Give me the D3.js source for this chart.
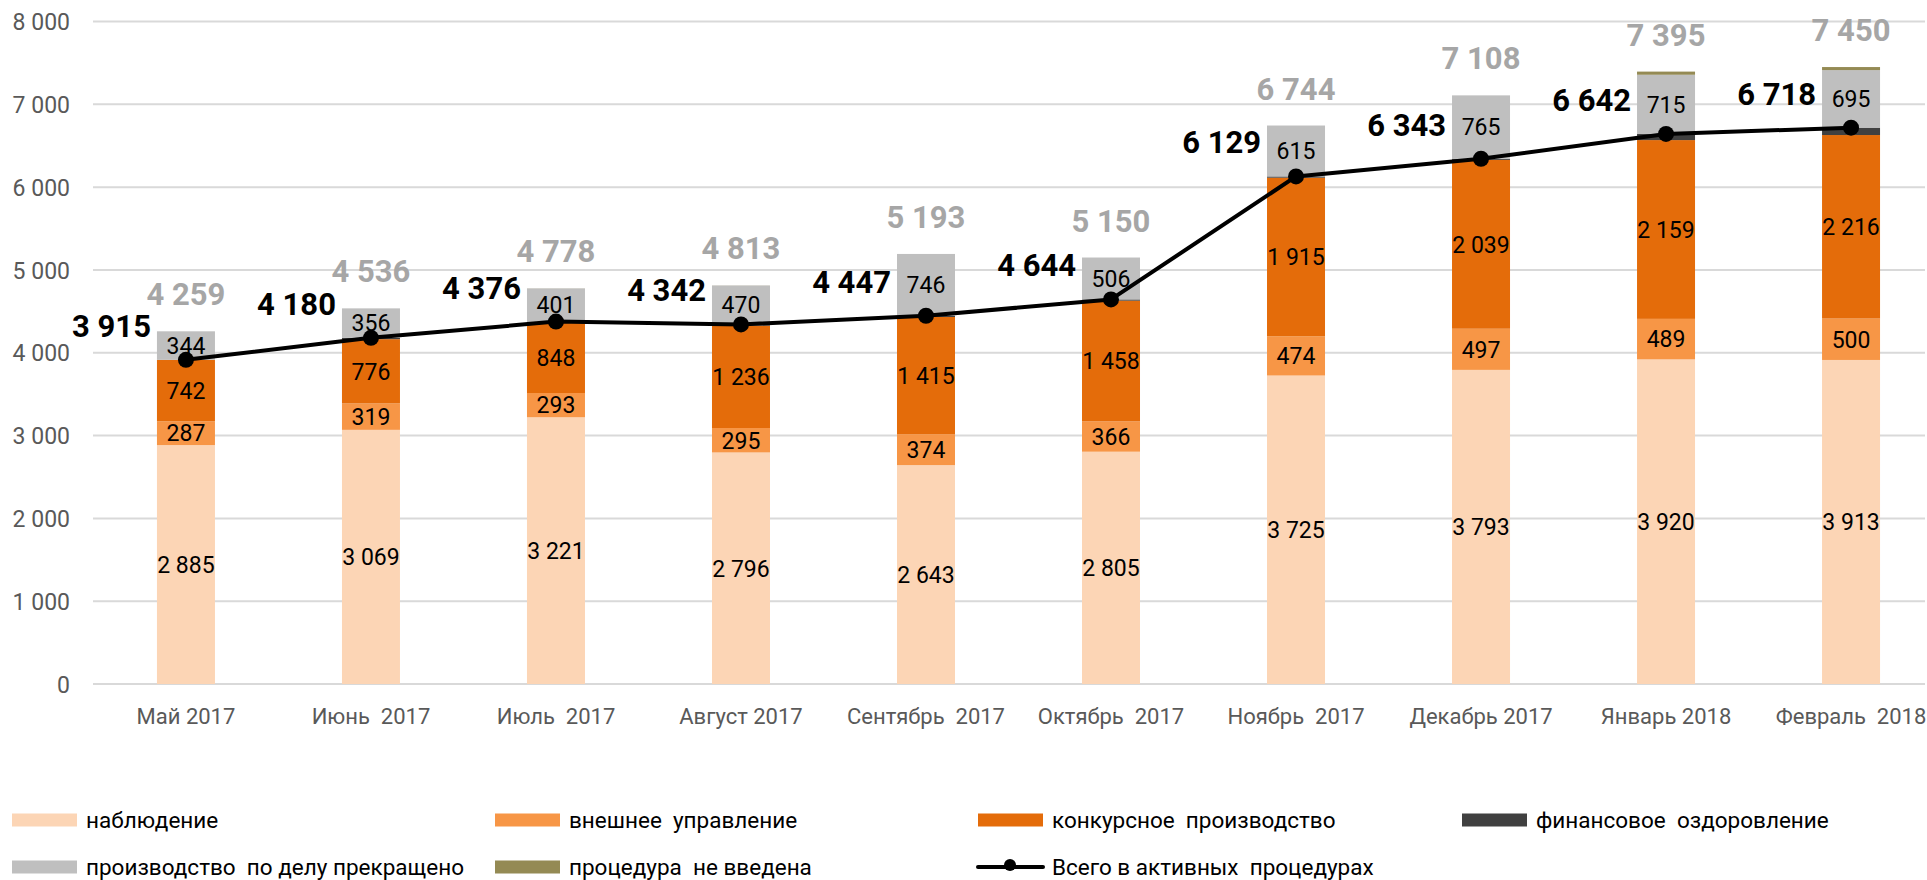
<!DOCTYPE html>
<html>
<head>
<meta charset="utf-8">
<script src="https://cdn.jsdelivr.net/npm/d3@7"></script>
<style>
  html, body { margin: 0; padding: 0; background: #fff; }
  svg text { font-family: Roboto, "Noto Sans", sans-serif; white-space: pre; }
</style>
</head>
<body>
<svg id="chart" width="1927" height="880"></svg>
<script>
const categories = ["Май 2017", "Июнь  2017", "Июль  2017", "Август 2017", "Сентябрь  2017", "Октябрь  2017", "Ноябрь  2017", "Декабрь 2017", "Январь 2018", "Февраль  2018"];
const nabludenie   = [2885, 3069, 3221, 2796, 2643, 2805, 3725, 3793, 3920, 3913];
const vneshnee     = [287, 319, 293, 295, 374, 366, 474, 497, 489, 500];
const konkursnoe   = [742, 776, 848, 1236, 1415, 1458, 1915, 2039, 2159, 2216];
const finansovoe   = [1, 16, 14, 15, 15, 15, 15, 14, 74, 89];
const prekrascheno = [344, 356, 401, 470, 746, 506, 615, 765, 715, 695];
const neVvedena    = [0, 0, 1, 1, 0, 0, 0, 0, 38, 37];
const activeTotal  = [3915, 4180, 4376, 4342, 4447, 4644, 6129, 6343, 6642, 6718];
const grandTotal   = [4259, 4536, 4778, 4813, 5193, 5150, 6744, 7108, 7395, 7450];
const yTicks = [0, 1000, 2000, 3000, 4000, 5000, 6000, 7000, 8000];

const seriesNames = ["наблюдение", "внешнее  управление", "конкурсное  производство", "финансовое  оздоровление", "производство  по делу прекращено", "процедура  не введена"];
const seriesColors = ["#FCD5B5", "#F79646", "#E46C0A", "#404040", "#BFBFBF", "#948A54"];
const seriesData = [nabludenie, vneshnee, konkursnoe, finansovoe, prekrascheno, neVvedena];
const labelled = [true, true, true, false, true, false];
const lineName = "Всего в активных  процедурах";

const svg = d3.select("#chart");
const fmt = v => d3.format(",")(v).replace(/,/g, " ");

const x = d3.scaleBand().domain(categories).range([93.5, 1943.5]).paddingInner(0.6865).paddingOuter(0.343);
const y = d3.scaleLinear().domain([0, 8000]).range([684, 21.5]);

// gridlines
svg.append("g").selectAll("line").data(yTicks).join("line")
  .attr("x1", 93).attr("x2", 1925)
  .attr("y1", d => y(d)).attr("y2", d => y(d))
  .attr("stroke", "#D9D9D9").attr("stroke-width", 2);

// y axis labels
const yAxis = d3.axisLeft(y).tickValues(yTicks).tickFormat(fmt).tickSize(0).tickPadding(0);
const yg = svg.append("g").attr("transform", "translate(70,0)").call(yAxis);
yg.select(".domain").remove();
yg.selectAll("text").attr("font-size", 23).attr("fill", "#595959").attr("font-family", "Roboto").attr("dy", "0.35em");

// x axis labels
const xAxis = d3.axisBottom(x).tickSize(0).tickPadding(0);
const xg = svg.append("g").attr("transform", "translate(0,724)").call(xAxis);
xg.select(".domain").remove();
xg.selectAll("text").attr("font-size", 22).attr("fill", "#595959").attr("font-family", "Roboto").attr("dy", 0).attr("y", 0);

// stacked data
const stackRows = categories.map((c, i) => {
  const o = { cat: c };
  seriesData.forEach((s, k) => o["s" + k] = s[i]);
  return o;
});
const stack = d3.stack().keys(seriesData.map((s, k) => "s" + k));
const stacked = stack(stackRows);

const barG = svg.append("g");
stacked.forEach((layer, k) => {
  barG.append("g").attr("fill", seriesColors[k]).selectAll("rect").data(layer).join("rect")
    .attr("x", d => x(d.data.cat))
    .attr("width", x.bandwidth())
    .attr("y", d => y(d[1]))
    .attr("height", d => Math.max(0, y(d[0]) - y(d[1])));
});

// segment labels
const segG = svg.append("g");
stacked.forEach((layer, k) => {
  if (!labelled[k]) return;
  segG.append("g").selectAll("text").data(layer).join("text")
    .attr("x", d => x(d.data.cat) + x.bandwidth() / 2)
    .attr("y", d => (y(d[0]) + y(d[1])) / 2)
    .attr("dy", "0.36em")
    .attr("text-anchor", "middle")
    .attr("font-size", 23)
    .attr("fill", "#000")
    .text(d => fmt(d[1] - d[0]));
});

// line
const cx = c => x(c) + x.bandwidth() / 2;
const line = d3.line().x((d, i) => cx(categories[i])).y(d => y(d));
svg.append("path").datum(activeTotal).attr("d", line)
  .attr("fill", "none").attr("stroke", "#000").attr("stroke-width", 4).attr("stroke-linejoin", "round");
svg.append("g").selectAll("circle").data(activeTotal).join("circle")
  .attr("cx", (d, i) => cx(categories[i])).attr("cy", d => y(d)).attr("r", 8).attr("fill", "#000");

// line labels
svg.append("g").selectAll("text").data(activeTotal).join("text")
  .attr("x", (d, i) => cx(categories[i]) - 35)
  .attr("y", d => y(d) - 23)
  .attr("text-anchor", "end")
  .attr("font-size", 31).attr("font-weight", "bold").attr("fill", "#000")
  .text(d => fmt(d));

// total labels
svg.append("g").selectAll("text").data(grandTotal).join("text")
  .attr("x", (d, i) => cx(categories[i]))
  .attr("y", d => y(d) - 26)
  .attr("text-anchor", "middle")
  .attr("font-size", 31).attr("font-weight", "bold").attr("fill", "#A6A6A6")
  .text(d => fmt(d));

// legend
const legendItems = seriesNames.map((n, k) => ({ name: n, color: seriesColors[k], type: "rect" }));
legendItems.push({ name: lineName, color: "#000", type: "line" });
const colX = [12, 495, 978, 1462];
const rowY = [820, 867];
const lg = svg.append("g");
legendItems.forEach((it, i) => {
  const cxl = colX[i % 4], cyl = rowY[Math.floor(i / 4)];
  const g = lg.append("g").attr("transform", `translate(${cxl},${cyl})`);
  if (it.type === "rect") {
    g.append("rect").attr("x", 0).attr("y", -6.5).attr("width", 65).attr("height", 13).attr("fill", it.color);
  } else {
    g.append("line").attr("x1", 0).attr("x2", 65).attr("y1", 0).attr("y2", 0).attr("stroke", "#000").attr("stroke-width", 4).attr("stroke-linecap", "round");
    g.append("circle").attr("cx", 32).attr("cy", -2).attr("r", 6).attr("fill", "#000");
  }
  g.append("text").attr("x", 74).attr("y", 0).attr("dy", "0.35em")
    .attr("font-size", 22.5).attr("fill", "#000").text(it.name);
});
</script>
</body>
</html>
